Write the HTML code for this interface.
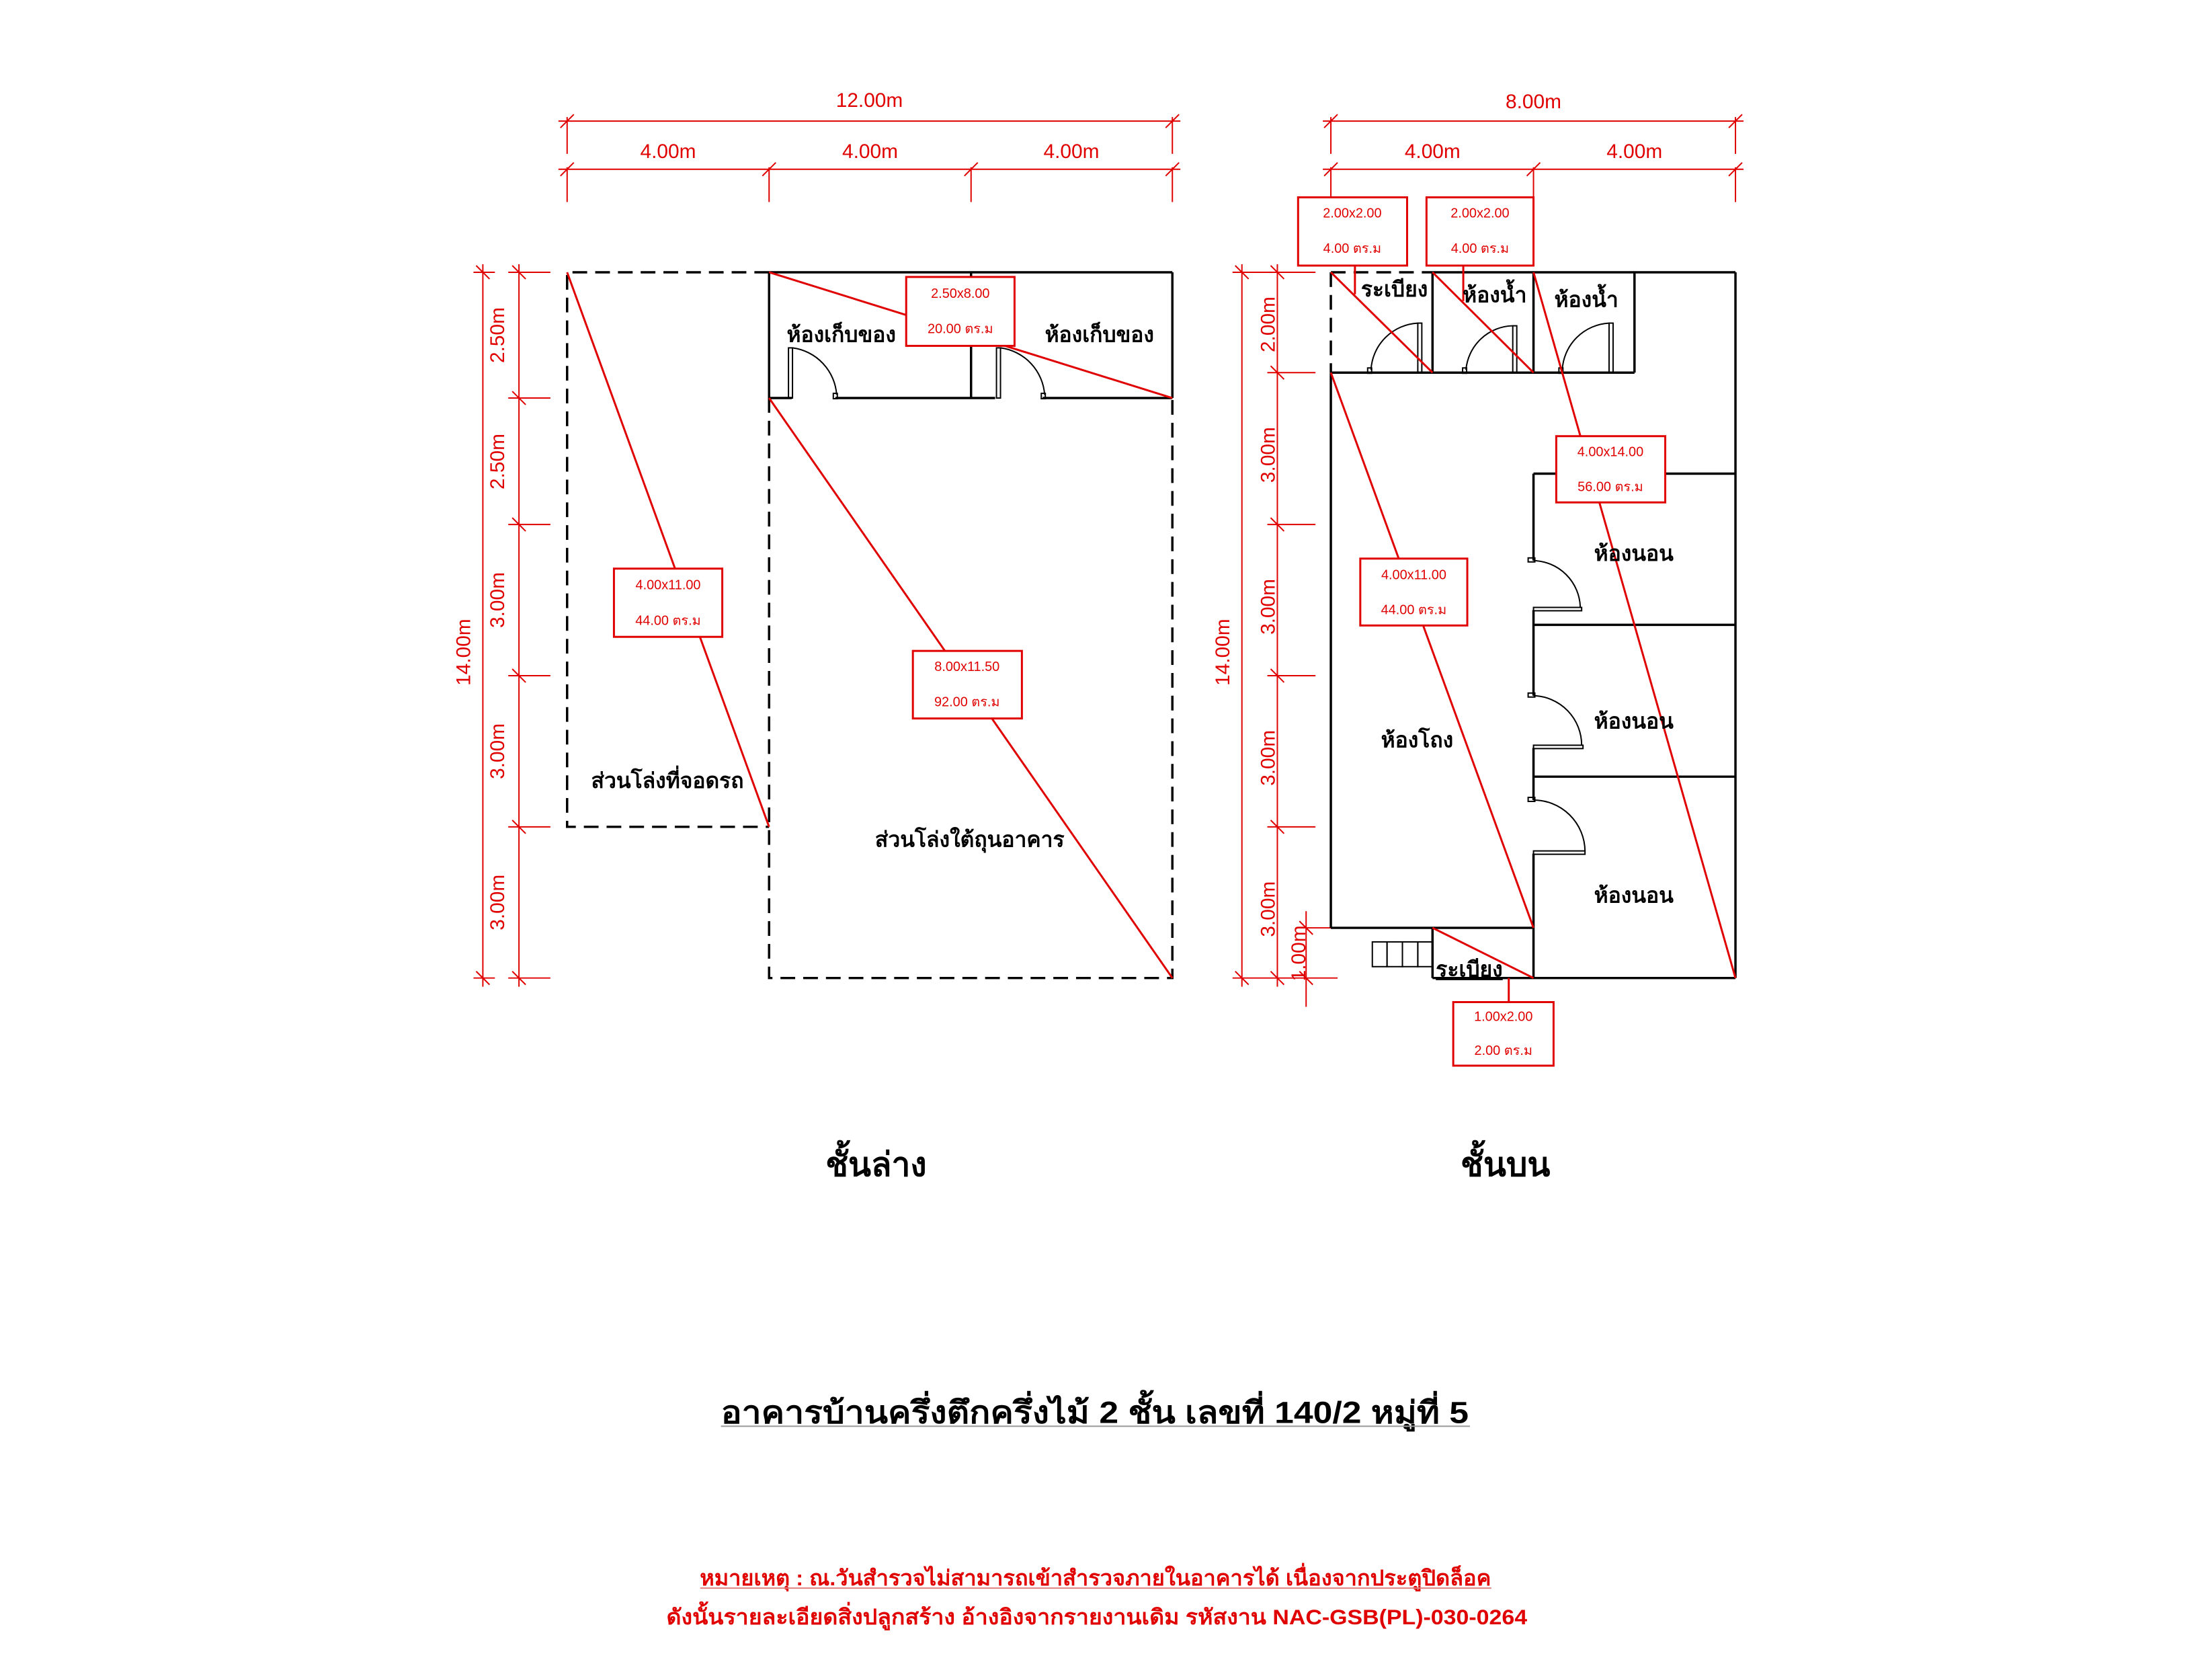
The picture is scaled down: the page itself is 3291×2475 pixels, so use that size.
<!DOCTYPE html>
<html><head><meta charset="utf-8"><style>html,body{margin:0;padding:0;background:#fff}svg{display:block}</style></head>
<body>
<svg width="3291" height="2475" viewBox="0 0 3291 2475" xmlns="http://www.w3.org/2000/svg" font-family="'Liberation Sans', 'DejaVu Sans', sans-serif">
<rect width="3291" height="2475" fill="#fff"/>
<g transform="scale(0.995)">
<!-- ===== LEFT PLAN dimensions ===== -->
<g stroke="#e00000" stroke-width="2" fill="none">
  <line x1="835" y1="181" x2="1765" y2="181"/>
  <line x1="835" y1="253" x2="1765" y2="253"/>
  <line x1="848" y1="175" x2="848" y2="230"/><line x1="1753" y1="175" x2="1753" y2="230"/>
  <line x1="848" y1="250" x2="848" y2="302"/><line x1="1150" y1="250" x2="1150" y2="302"/>
  <line x1="1452" y1="250" x2="1452" y2="302"/><line x1="1753" y1="250" x2="1753" y2="302"/>
  <g stroke-width="2"><line x1="838" y1="191" x2="858" y2="171"/><line x1="1743" y1="191" x2="1763" y2="171"/>
  <line x1="838" y1="263" x2="858" y2="243"/><line x1="1140" y1="263" x2="1160" y2="243"/><line x1="1442" y1="263" x2="1462" y2="243"/><line x1="1743" y1="263" x2="1763" y2="243"/></g>
  <line x1="722" y1="395" x2="722" y2="1475"/>
  <line x1="776" y1="395" x2="776" y2="1475"/>
  <line x1="708" y1="407" x2="740" y2="407"/><line x1="708" y1="1462" x2="740" y2="1462"/>
  <line x1="712" y1="397" x2="732" y2="417"/><line x1="712" y1="1452" x2="732" y2="1472"/>
  <g>
    <line x1="760" y1="407" x2="823" y2="407"/><line x1="760" y1="595" x2="823" y2="595"/><line x1="760" y1="784" x2="823" y2="784"/>
    <line x1="760" y1="1010" x2="823" y2="1010"/><line x1="760" y1="1236" x2="823" y2="1236"/><line x1="760" y1="1462" x2="823" y2="1462"/>
    <line x1="766" y1="397" x2="786" y2="417"/><line x1="766" y1="585" x2="786" y2="605"/><line x1="766" y1="774" x2="786" y2="794"/>
    <line x1="766" y1="1000" x2="786" y2="1020"/><line x1="766" y1="1226" x2="786" y2="1246"/><line x1="766" y1="1452" x2="786" y2="1472"/>
  </g>
</g>
<g fill="#e00000" font-size="30" text-anchor="middle">
  <text x="1300" y="160">12.00m</text>
  <text x="999" y="236">4.00m</text><text x="1301" y="236">4.00m</text><text x="1602" y="236">4.00m</text>
  <text transform="translate(754,501) rotate(-90)">2.50m</text>
  <text transform="translate(754,690) rotate(-90)">2.50m</text>
  <text transform="translate(754,897) rotate(-90)">3.00m</text>
  <text transform="translate(754,1123) rotate(-90)">3.00m</text>
  <text transform="translate(754,1349) rotate(-90)">3.00m</text>
  <text transform="translate(703,975) rotate(-90)">14.00m</text>
</g>
<!-- LEFT PLAN geometry -->
<g stroke="#000" stroke-width="3.5" fill="none">
  <g stroke-dasharray="22 12">
    <polyline points="1150,407 848,407 848,1236 1150,1236"/>
    <polyline points="1150,595 1150,1462 1753,1462 1753,595"/>
  </g>
  <line x1="1150" y1="407" x2="1753" y2="407"/>
  <line x1="1150" y1="407" x2="1150" y2="595"/>
  <line x1="1753" y1="407" x2="1753" y2="595"/>
  <line x1="1452" y1="407" x2="1452" y2="595"/>
  <line x1="1150" y1="595" x2="1184" y2="595"/>
  <line x1="1249" y1="595" x2="1488" y2="595"/>
  <line x1="1559" y1="595" x2="1753" y2="595"/>
</g>
<g stroke="#000" stroke-width="2" fill="none">
  <rect x="1179" y="520" width="6" height="75"/><path d="M1185,520 A76,76 0 0 1 1251,590"/><rect x="1246" y="588" width="6" height="8"/>
  <rect x="1490" y="520" width="6" height="75"/><path d="M1496,520 A76,76 0 0 1 1562,590"/><rect x="1557" y="588" width="6" height="8"/>
</g>
<g stroke="#e00000" stroke-width="3" fill="none">
  <line x1="848" y1="407" x2="1150" y2="1236"/>
  <line x1="1150" y1="595" x2="1753" y2="1462"/>
  <line x1="1150" y1="407" x2="1753" y2="595"/>
</g>
<g fill="#fff" stroke="#e00000" stroke-width="3">
  <rect x="918" y="850" width="162" height="102"/>
  <rect x="1365" y="973" width="163" height="101"/>
  <rect x="1355" y="414" width="162" height="103"/>
</g>
<g fill="#e00000" font-size="20" text-anchor="middle">
  <text x="999" y="881">4.00x11.00</text><text x="999" y="934">44.00 ตร.ม</text>
  <text x="1446" y="1003">8.00x11.50</text><text x="1446" y="1056">92.00 ตร.ม</text>
  <text x="1436" y="445">2.50x8.00</text><text x="1436" y="498">20.00 ตร.ม</text>
</g>
<g fill="#000" font-size="32" font-weight="bold" text-anchor="middle">
  <text x="1258" y="511">ห้องเก็บของ</text>
  <text x="1644" y="511">ห้องเก็บของ</text>
  <text x="998" y="1178">ส่วนโล่งที่จอดรถ</text>
  <text x="1450" y="1266">ส่วนโล่งใต้ถุนอาคาร</text>
</g>
<!-- ===== RIGHT PLAN dimensions ===== -->
<g stroke="#e00000" stroke-width="2" fill="none">
  <line x1="1978" y1="181" x2="2607" y2="181"/>
  <line x1="1978" y1="253" x2="2607" y2="253"/>
  <line x1="1990" y1="175" x2="1990" y2="230"/><line x1="2595" y1="175" x2="2595" y2="230"/>
  <line x1="1990" y1="250" x2="1990" y2="302"/><line x1="2293" y1="250" x2="2293" y2="302"/><line x1="2595" y1="250" x2="2595" y2="302"/>
  <line x1="1980" y1="191" x2="2000" y2="171"/><line x1="2585" y1="191" x2="2605" y2="171"/>
  <line x1="1980" y1="263" x2="2000" y2="243"/><line x1="2283" y1="263" x2="2303" y2="243"/><line x1="2585" y1="263" x2="2605" y2="243"/>
  <line x1="1857" y1="395" x2="1857" y2="1475"/>
  <line x1="1910" y1="395" x2="1910" y2="1475"/>
  <line x1="1843" y1="407" x2="1895" y2="407"/><line x1="1843" y1="1462" x2="1895" y2="1462"/>
  <line x1="1847" y1="397" x2="1867" y2="417"/><line x1="1847" y1="1452" x2="1867" y2="1472"/>
  <line x1="1895" y1="407" x2="1967" y2="407"/><line x1="1895" y1="557" x2="1967" y2="557"/><line x1="1895" y1="784" x2="1967" y2="784"/>
  <line x1="1895" y1="1010" x2="1967" y2="1010"/><line x1="1895" y1="1236" x2="1967" y2="1236"/><line x1="1895" y1="1462" x2="2000" y2="1462"/>
  <line x1="1900" y1="397" x2="1920" y2="417"/><line x1="1900" y1="547" x2="1920" y2="567"/><line x1="1900" y1="774" x2="1920" y2="794"/>
  <line x1="1900" y1="1000" x2="1920" y2="1020"/><line x1="1900" y1="1226" x2="1920" y2="1246"/><line x1="1900" y1="1452" x2="1920" y2="1472"/>
  <line x1="1953" y1="1362" x2="1953" y2="1505"/>
  <line x1="1943" y1="1377" x2="1963" y2="1397"/><line x1="1943" y1="1452" x2="1963" y2="1472"/>
  <line x1="1940" y1="1387" x2="1990" y2="1387"/>
</g>
<g fill="#e00000" font-size="30" text-anchor="middle">
  <text x="2293" y="162">8.00m</text>
  <text x="2142" y="236">4.00m</text><text x="2444" y="236">4.00m</text>
  <text transform="translate(1906,485) rotate(-90)">2.00m</text>
  <text transform="translate(1906,680) rotate(-90)">3.00m</text>
  <text transform="translate(1906,907) rotate(-90)">3.00m</text>
  <text transform="translate(1906,1133) rotate(-90)">3.00m</text>
  <text transform="translate(1906,1359) rotate(-90)">3.00m</text>
  <text transform="translate(1952,1425) rotate(-90)">1.00m</text>
  <text transform="translate(1838,975) rotate(-90)">14.00m</text>
</g>
<!-- RIGHT PLAN geometry -->
<g stroke="#000" stroke-width="3.5" fill="none">
  <polyline points="1990,407 2142,407" stroke-dasharray="22 12"/>
  <polyline points="1990,407 1990,557" stroke-dasharray="22 12"/>
  <line x1="2142" y1="407" x2="2595" y2="407"/>
  <line x1="2595" y1="407" x2="2595" y2="1462"/>
  <line x1="1990" y1="557" x2="1990" y2="1387"/>
  <line x1="1990" y1="557" x2="2444" y2="557"/>
  <line x1="2142" y1="407" x2="2142" y2="557"/>
  <line x1="2293" y1="407" x2="2293" y2="557"/>
  <line x1="2444" y1="407" x2="2444" y2="557"/>
  <line x1="1990" y1="1387" x2="2293" y2="1387"/>
  <line x1="2293" y1="708" x2="2293" y2="838"/>
  <line x1="2293" y1="912" x2="2293" y2="1040"/>
  <line x1="2293" y1="1118" x2="2293" y2="1196"/>
  <line x1="2293" y1="1276" x2="2293" y2="1462"/>
  <line x1="2293" y1="708" x2="2595" y2="708"/>
  <line x1="2293" y1="934" x2="2595" y2="934"/>
  <line x1="2293" y1="1161" x2="2595" y2="1161"/>
  <line x1="2142" y1="1462" x2="2595" y2="1462"/>
  <line x1="2142" y1="1387" x2="2142" y2="1462"/>
</g>
<g stroke="#000" stroke-width="2" fill="none">
  <rect x="2120" y="483" width="6" height="74"/><path d="M2120,483 A74,74 0 0 0 2050,553"/><rect x="2045" y="550" width="6" height="8"/>
  <rect x="2262" y="487" width="6" height="70"/><path d="M2262,487 A72,72 0 0 0 2192,553"/><rect x="2187" y="550" width="6" height="8"/>
  <rect x="2406" y="483" width="6" height="74"/><path d="M2406,483 A74,74 0 0 0 2336,553"/><rect x="2331" y="550" width="6" height="8"/>
  <rect x="2293" y="908" width="72" height="5"/><path d="M2363,908 A72,72 0 0 0 2293,838"/><rect x="2285" y="834" width="10" height="6"/>
  <rect x="2293" y="1114" width="74" height="5"/><path d="M2365,1114 A74,74 0 0 0 2293,1040"/><rect x="2285" y="1036" width="10" height="6"/>
  <rect x="2293" y="1272" width="77" height="5"/><path d="M2370,1272 A77,77 0 0 0 2293,1196"/><rect x="2285" y="1192" width="10" height="6"/>
  <rect x="2052" y="1408" width="22" height="37"/><rect x="2074" y="1408" width="23" height="37"/><rect x="2097" y="1408" width="23" height="37"/><rect x="2120" y="1408" width="22" height="37"/>
</g>
<g stroke="#e00000" stroke-width="3" fill="none">
  <line x1="1990" y1="407" x2="2142" y2="557"/>
  <line x1="2142" y1="407" x2="2293" y2="557"/>
  <line x1="2293" y1="407" x2="2595" y2="1462"/>
  <line x1="1990" y1="557" x2="2293" y2="1387"/>
  <line x1="2142" y1="1387" x2="2293" y2="1462"/>
  <line x1="2026" y1="397" x2="2026" y2="440"/>
  <line x1="2188" y1="397" x2="2188" y2="450"/>
  <line x1="2256" y1="1462" x2="2256" y2="1498"/>
</g>
<g fill="#fff" stroke="#e00000" stroke-width="3">
  <rect x="1941" y="295" width="163" height="102"/>
  <rect x="2133" y="295" width="160" height="102"/>
  <rect x="2327" y="652" width="163" height="99"/>
  <rect x="2034" y="835" width="160" height="100"/>
  <rect x="2173" y="1498" width="150" height="95"/>
</g>
<g fill="#e00000" font-size="20" text-anchor="middle">
  <text x="2022" y="325">2.00x2.00</text><text x="2022" y="378">4.00 ตร.ม</text>
  <text x="2213" y="325">2.00x2.00</text><text x="2213" y="378">4.00 ตร.ม</text>
  <text x="2408" y="682">4.00x14.00</text><text x="2408" y="734">56.00 ตร.ม</text>
  <text x="2114" y="866">4.00x11.00</text><text x="2114" y="918">44.00 ตร.ม</text>
  <text x="2248" y="1526">1.00x2.00</text><text x="2248" y="1577">2.00 ตร.ม</text>
</g>
<g fill="#000" font-size="32" font-weight="bold" text-anchor="middle">
  <text x="2085" y="443">ระเบียง</text>
  <text x="2235" y="452">ห้องน้ำ</text>
  <text x="2372" y="459">ห้องน้ำ</text>
  <text x="2443" y="838">ห้องนอน</text>
  <text x="2443" y="1089">ห้องนอน</text>
  <text x="2443" y="1349">ห้องนอน</text>
  <text x="2119" y="1117">ห้องโถง</text>
  <text x="2197" y="1460" text-decoration="underline">ระเบียง</text>
</g>
<!-- Titles -->
<g fill="#000" font-weight="bold" text-anchor="middle">
  <text x="1310" y="1758" font-size="50">ชั้นล่าง</text>
  <text x="2251" y="1758" font-size="50">ชั้นบน</text>
  <text x="1637" y="2127" font-size="46" textLength="1118" lengthAdjust="spacingAndGlyphs">อาคารบ้านครึ่งตึกครึ่งไม้ 2 ชั้น เลขที่ 140/2 หมู่ที่ 5</text>
</g>
<line x1="1078" y1="2132" x2="2198" y2="2132" stroke="#999" stroke-width="2"/>
<g fill="#e00000" font-weight="bold" text-anchor="middle" font-size="32">
  <text x="1638" y="2370" textLength="1183" lengthAdjust="spacingAndGlyphs">หมายเหตุ : ณ.วันสำรวจไม่สามารถเข้าสำรวจภายในอาคารได้ เนื่องจากประตูปิดล็อค</text>
  <text x="1640" y="2428" textLength="1287" lengthAdjust="spacingAndGlyphs">ดังนั้นรายละเอียดสิ่งปลูกสร้าง อ้างอิงจากรายงานเดิม รหัสงาน  NAC-GSB(PL)-030-0264</text>
</g>
<line x1="1047" y1="2374" x2="2230" y2="2374" stroke="#e08080" stroke-width="2"/>
</g>
</svg>
</body></html>
